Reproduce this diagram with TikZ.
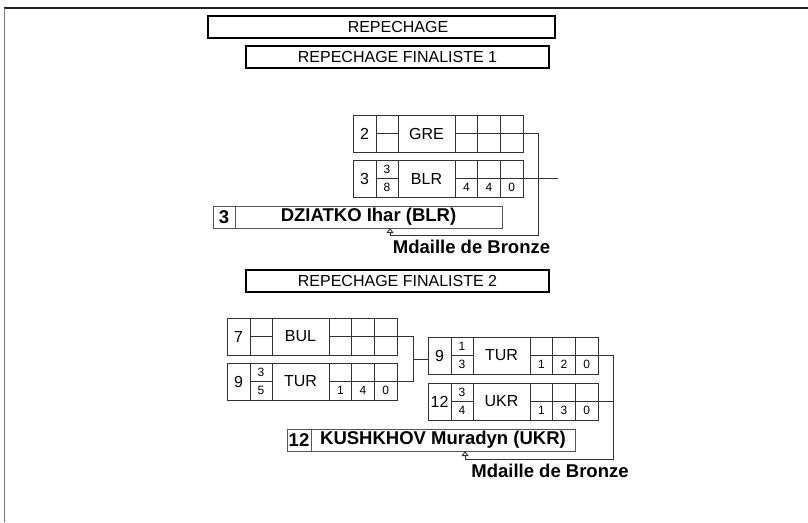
\documentclass[tikz,border=0pt]{standalone}
\usepackage{fontspec}
\setmainfont{Liberation Sans}
\usetikzlibrary{arrows.meta}
\definecolor{ln}{HTML}{333333}
\definecolor{wl}{HTML}{555555}
\definecolor{frm}{HTML}{222222}
\definecolor{frl}{HTML}{777777}
\tikzset{
  cell/.style={draw=ln, line width=0.9pt, anchor=north west, inner sep=0pt, outer sep=0pt,
    minimum height=37pt, font=\fontsize{16}{18}\selectfont},
  half/.style={draw=ln, line width=0.9pt, anchor=north west, inner sep=0pt, outer sep=0pt,
    minimum height=18.5pt, font=\fontsize{12}{13}\selectfont},
  ctry/.style={cell, font=\fontsize{16}{18}\selectfont},
  titlebox/.style={draw=black, line width=2pt, anchor=north west, inner sep=0pt, outer sep=0pt,
    minimum height=22pt, font=\fontsize{16}{18}\selectfont},
  titletext/.style={inner sep=0pt, font=\fontsize{16}{18}\selectfont},
  wbox/.style={draw=wl, line width=0.9pt, anchor=north west, inner sep=0pt, outer sep=0pt,
    minimum height=22pt, font=\bfseries\fontsize{18.5}{20}\selectfont},
  medal/.style={font=\bfseries\fontsize{18.5}{20}\selectfont, inner sep=0pt},
  conn/.style={draw=ln, line width=0.9pt},
  upar/.style={conn, -{Triangle[open, length=5pt, width=7pt]}}
}
% #1 name, #2 x, #3 y, #4 seed, #5 score top, #6 score bottom, #7 country, #8 {p1}{p2}{p3}
\newcommand\mrow[8]{%
  \node[cell, minimum width=23pt] (#1s) at (#2,#3) {#4};
  \node[half, minimum width=22pt] (#1ft) at ({#2+23},#3) {#5};
  \node[half, minimum width=22pt] (#1fb) at ({#2+23},{#3+18.5}) {#6};
  \node[ctry, minimum width=57pt] (#1c) at ({#2+45},#3) {#7};
  \mpts{#1}{#2}{#3}#8%
}
\newcommand\mpts[6]{%
  \node[half, minimum width=22.67pt] (#1p1t) at ({#2+102},#3) {};
  \node[half, minimum width=22.67pt] (#1p2t) at ({#2+124.67},#3) {};
  \node[half, minimum width=22.67pt] (#1p3t) at ({#2+147.33},#3) {};
  \node[half, minimum width=22.67pt] (#1p1b) at ({#2+102},{#3+18.5}) {#4};
  \node[half, minimum width=22.67pt] (#1p2b) at ({#2+124.67},{#3+18.5}) {#5};
  \node[half, minimum width=22.67pt] (#1p3b) at ({#2+147.33},{#3+18.5}) {#6};
}
\begin{document}
\begin{tikzpicture}[x=1pt, y=-1pt]
\useasboundingbox (0,0) rectangle (808,522);
% page frame
\draw[frm, line width=2pt] (4,8) -- (808,8);
\draw[frl, line width=1.5pt] (4.5,8) -- (4.5,522);

% titles
\node[titlebox, minimum width=347pt] (t0) at (208,16) {};
\node[titletext] (t0t) at (398,27) {REPECHAGE};
\node[titlebox, minimum width=303pt] (t1) at (246,46) {REPECHAGE FINALISTE 1};
\node[titlebox, minimum width=303pt] (t2) at (246,270) {REPECHAGE FINALISTE 2};

% repechage 1
\mrow{ra}{353}{115}{2}{}{}{GRE}{{}{}{}}
\mrow{rb}{353}{160}{3}{3}{8}{BLR}{{4}{4}{0}}
\node[wbox, minimum width=22pt] (w1s) at (213,206) {3};
\node[wbox, minimum width=267pt] (w1n) at (235,206) {DZIATKO Ihar (BLR)};
\coordinate (k1) at (538,235);
\coordinate (a1) at (390,228);
\draw[upar] (rap3t.south east) -| (k1) -| (a1);
\draw[conn] (rbp3t.south east) -- ++(35,0);
\node[medal] (m1) at (471.5,247) {Mdaille de Bronze};

% repechage 2
\mrow{rc}{227}{318}{7}{}{}{BUL}{{}{}{}}
\mrow{rd}{227}{363}{9}{3}{5}{TUR}{{1}{4}{0}}
\coordinate (k2) at (413,359);
\draw[conn] (rcp3t.south east) -| (k2);
\draw[conn] (rdp3t.south east) -| (k2);
\mrow{re}{428}{337}{9}{1}{3}{TUR}{{1}{2}{0}}
\mrow{rf}{428}{383}{12}{3}{4}{UKR}{{1}{3}{0}}
\draw[conn] (k2) -- (k2 -| res.west);
\node[wbox, minimum width=24pt] (w2s) at (287,429) {12};
\node[wbox, minimum width=264pt] (w2n) at (311,429) {KUSHKHOV Muradyn (UKR)};
\coordinate (k3) at (613,459);
\coordinate (a2) at (465,451);
\draw[upar] (rep3t.south east) -| (k3) -| (a2);
\draw[conn] (rfp3t.south east) -- (rfp3t.south east -| k3);
\node[medal] (m2) at (550,471) {Mdaille de Bronze};
\end{tikzpicture}
\end{document}
